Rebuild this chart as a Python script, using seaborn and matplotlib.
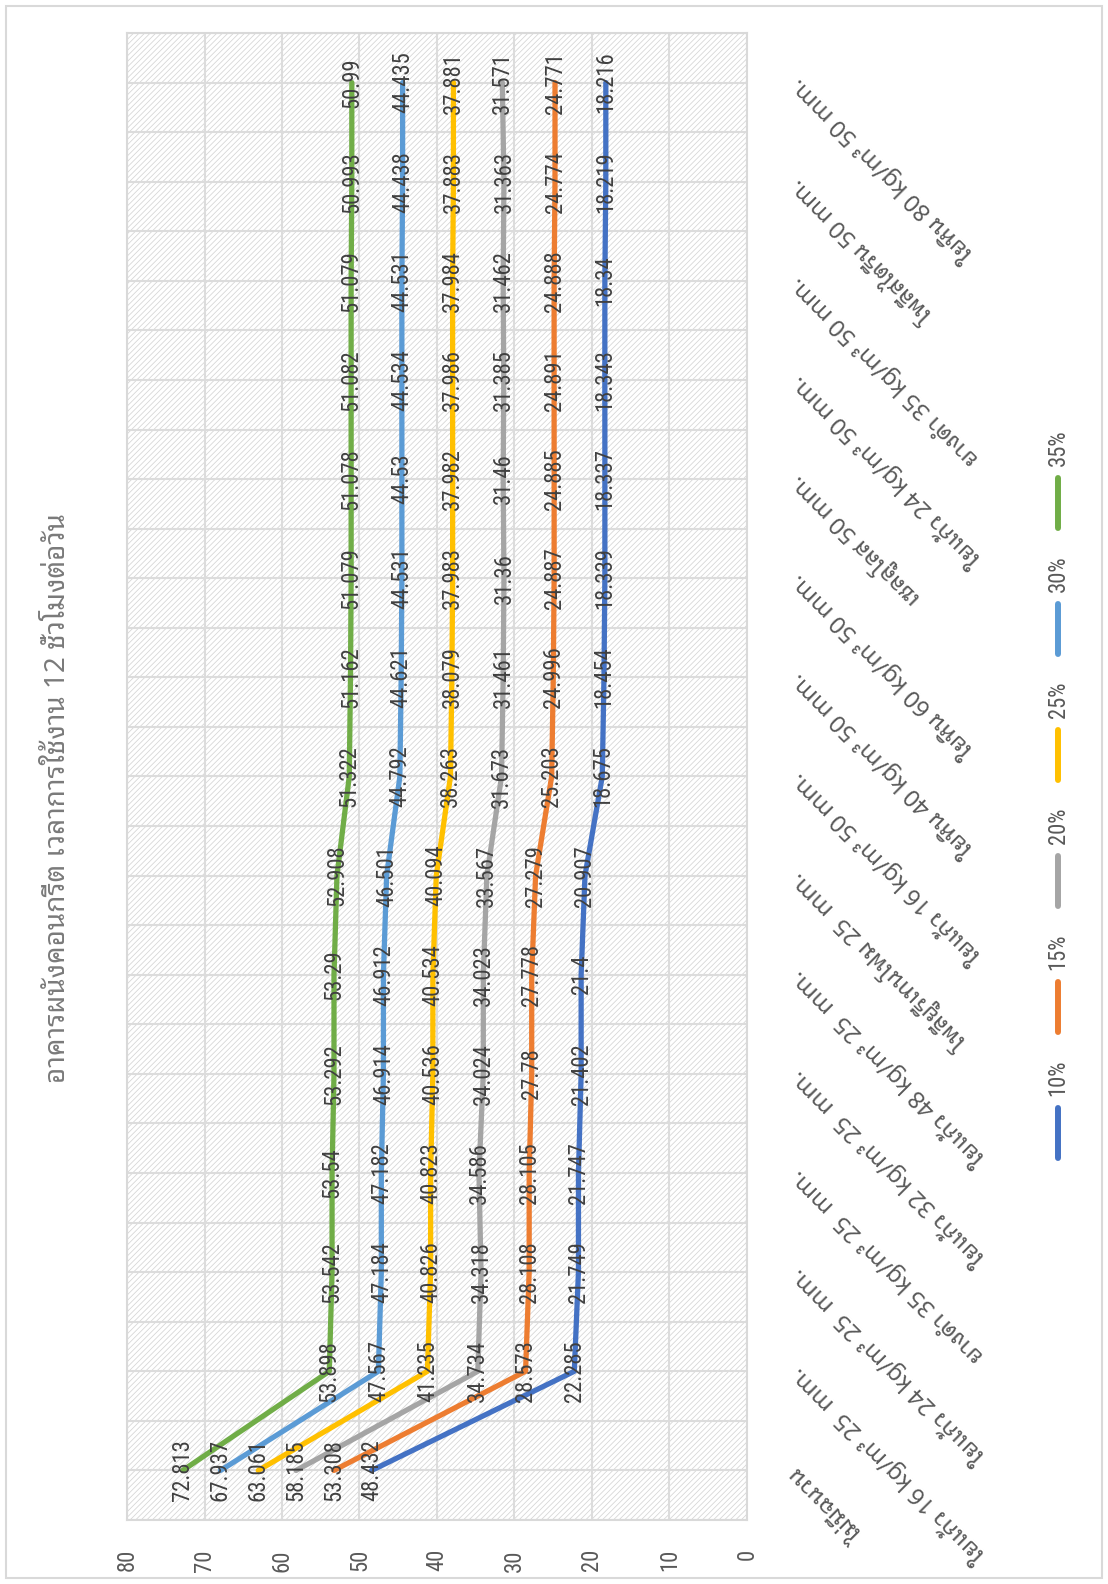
import numpy as np
import pandas as pd
import matplotlib
matplotlib.use("Agg")
import matplotlib.pyplot as plt
import seaborn as sns
from matplotlib import font_manager
from matplotlib.ft2font import FT2Font
from matplotlib.lines import Line2D
from matplotlib.patches import Rectangle

# ---------------- data ----------------
categories = [
    "ไม่มีฉนวน",
    "ใยแก้ว 16 kg/m³ 25  mm.",
    "ใยแก้ว 24 kg/m³ 25  mm.",
    "ยางดำ 35 kg/m³ 25  mm.",
    "ใยแก้ว 32 kg/m³ 25  mm.",
    "ใยแก้ว 48 kg/m³ 25  mm.",
    "โพลียูรีเทนโฟม 25  mm.",
    "ใยแก้ว 16 kg/m³ 50 mm.",
    "ใยหิน 40 kg/m³ 50 mm.",
    "ใยหิน 60 kg/m³ 50 mm.",
    "เซลลูโลส 50 mm.",
    "ใยแก้ว 24 kg/m³ 50 mm.",
    "ยางดำ 35 kg/m³ 50 mm.",
    "โพลีสไตรีน 50 mm.",
    "ใยหิน 80 kg/m³ 50 mm.",
]
series_names = ["10%", "15%", "20%", "25%", "30%", "35%"]
values_10 = [48.432, 22.285, 21.749, 21.747, 21.402, 21.4, 20.907, 18.675,
             18.454, 18.339, 18.337, 18.343, 18.34, 18.219, 18.216]
values_15 = [53.308, 28.573, 28.108, 28.105, 27.78, 27.778, 27.279, 25.203,
             24.996, 24.887, 24.885, 24.891, 24.888, 24.774, 24.771]
values_20 = [58.185, 34.734, 34.318, 34.586, 34.024, 34.023, 33.567, 31.673,
             31.461, 31.36, 31.46, 31.385, 31.462, 31.363, 31.571]
values_25 = [63.061, 41.235, 40.826, 40.823, 40.536, 40.534, 40.094, 38.263,
             38.079, 37.983, 37.982, 37.986, 37.984, 37.883, 37.881]
values_30 = [67.937, 47.567, 47.184, 47.182, 46.914, 46.912, 46.501, 44.792,
             44.621, 44.531, 44.53, 44.534, 44.531, 44.438, 44.435]
values_35 = [72.813, 53.898, 53.542, 53.54, 53.292, 53.29, 52.908, 51.322,
             51.162, 51.079, 51.078, 51.082, 51.079, 50.993, 50.99]
series_values = [values_10, values_15, values_20, values_25, values_30, values_35]
series_colors = ["#4472C4", "#ED7D31", "#A5A5A5", "#FFC000", "#5B9BD5", "#70AD47"]
value_ticks = [0, 10, 20, 30, 40, 50, 60, 70, 80]
title = "อาคารผนังคอนกรีต เวลาการใช้งาน 12 ชั่วโมงต่อวัน"

# ---------------- fonts ----------------
sns.set_theme(style="white")


def font_with_thai():
    preferred = ["Noto Sans Thai Looped", "Leelawadee UI", "Tahoma", "Loma",
                 "Garuda", "Sawasdee", "Umpush", "Waree", "Kinnari", "Norasi",
                 "Noto Sans Thai", "Noto Sans Thai UI", "Noto Serif Thai", "TlwgTypo"]
    found = {}
    for f in font_manager.fontManager.ttflist:
        if f.name in found:
            continue
        try:
            if FT2Font(f.fname).get_char_index(0x0E01):
                found[f.name] = f.fname
        except Exception:
            pass
    for p in preferred:
        if p in found:
            return p
    return next(iter(found), None)


available = {f.name for f in font_manager.fontManager.ttflist}
latin_font = "Liberation Sans"
latin_scale = 1.0
for cand in ["Liberation Sans Narrow", "Roboto Condensed", "Open Sans Condensed",
             "DejaVu Sans Condensed"]:
    if cand in available:
        latin_font = cand
        latin_scale = 1.3
        break
thai_font = font_with_thai()
thai_family = [thai_font, latin_font, "DejaVu Sans"] if thai_font else [latin_font, "DejaVu Sans"]
plt.rcParams["font.family"] = [latin_font, "DejaVu Sans"]
plt.rcParams["hatch.linewidth"] = 0.55
plt.rcParams["hatch.color"] = "#d4d4d4"

# ---------------- long-form table ----------------
rows = []
for name, vals in zip(series_names, series_values):
    for pos, v in enumerate(vals):
        rows.append({"series": name, "pos": pos, "value": v})
df = pd.DataFrame(rows)

# ---------------- figure ----------------
W, H = 1108, 1584
fig = plt.figure(figsize=(W / 100, H / 100), dpi=100)
fig.patch.set_facecolor("white")
ax = fig.add_axes([127 / W, 64 / H, 620 / W, 1487 / H])
ax.set_facecolor("white")

# hatched plot area
ax.add_patch(Rectangle((0, 0), 1, 1, transform=ax.transAxes, facecolor="white",
                       edgecolor="#d4d4d4", hatch="//////", lw=0, zorder=0.1))

sns.lineplot(data=df, x="value", y="pos", hue="series", palette=series_colors,
             hue_order=series_names, orient="y", sort=False, estimator=None,
             linewidth=3.8, legend=False, ax=ax, zorder=2,
             solid_joinstyle="round", solid_capstyle="round")

# value labels centred on each point
for vals in series_values:
    for pos, v in enumerate(vals):
        ax.text(v, pos, f"{v:g}", rotation=90, rotation_mode="anchor",
                ha="center", va="center", color="#404040",
                fontsize=12.5 * latin_scale, zorder=3)

ax.set_xlim(80, 0)
ax.set_ylim(-0.5, len(categories) - 0.5)

ax.set_xticks(value_ticks)
ax.set_xticklabels([str(t) for t in value_ticks], rotation=90)
ax.tick_params(axis="x", length=0, pad=21, labelcolor="#595959",
               labelsize=12.5 * latin_scale)

ax.set_yticks(np.arange(len(categories)))
ax.set_yticks(np.arange(-0.5, len(categories)), minor=True)
ax.yaxis.tick_right()
ax.set_yticklabels(categories, rotation=135, rotation_mode="anchor",
                   ha="right", va="center", family=thai_family,
                   fontsize=17, color="#595959")
ax.tick_params(axis="y", which="both", length=0, pad=34)

ax.set_axisbelow(True)
ax.grid(True, which="both", axis="both", color="#dcdcdc", lw=1.5, zorder=0.5)
for sp in ax.spines.values():
    sp.set_color("#d9d9d9")
    sp.set_linewidth(1.5)
ax.set_xlabel("")
ax.set_ylabel("")

# title
fig.text(58 / W, 1 - 798 / H, title, rotation=90, ha="center", va="center",
         fontsize=20, color="#7a7a7a", family=thai_family)

# legend column
leg_x = 1058 / W
for k, (name, col) in enumerate(zip(series_names, series_colors)):
    top = 1108 - 126 * k
    y0 = 1 - top / H
    y1 = 1 - (top + 50) / H
    fig.add_artist(Line2D([leg_x, leg_x], [y0, y1], transform=fig.transFigure,
                          color=col, lw=4.3, solid_capstyle="round"))
    fig.text(leg_x, 1 - (top - 30) / H, name, rotation=90, ha="center",
             va="center", color="#595959", fontsize=12.5 * latin_scale)

# chart frame
fig.add_artist(Rectangle((6 / W, 6 / H), 1 - 12 / W, 1 - 12 / H,
                         transform=fig.transFigure, fill=False,
                         edgecolor="#d9d9d9", lw=1.5))

fig.savefig("out.png", dpi=100, facecolor="white")
